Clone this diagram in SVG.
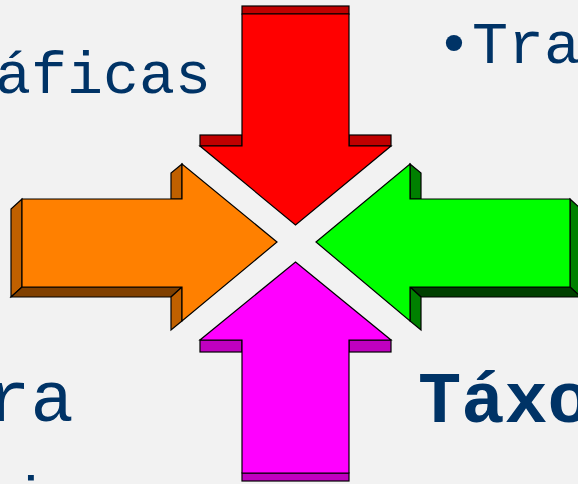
<svg xmlns="http://www.w3.org/2000/svg" width="578" height="484" viewBox="0 0 578 484">
<style>
.s{stroke:#000;stroke-width:1.2;stroke-linejoin:miter}
.t{font-family:"Liberation Mono","DejaVu Sans Mono",monospace;fill:#003366}
</style>
<rect width="578" height="484" fill="#f2f2f2"/>
<g id="texts">
<text class="t" x="-5" y="93" font-size="60">áficas</text>
<text class="t" x="436" y="63" font-size="60">•Tra</text>
<text class="t" x="-12.7" y="421" font-size="72">ra</text>
<text class="t" x="418" y="422" font-size="72" font-weight="bold">Táxo</text>
<text class="t" x="12" y="518" font-size="60">i</text>
</g>
<g id="arrow-red">
<rect class="s" x="242" y="6" width="107" height="8" fill="#c00000"/>
<rect class="s" x="200" y="135" width="42" height="11" fill="#c00000"/>
<rect class="s" x="349" y="135" width="42" height="11" fill="#c00000"/>
<polygon class="s" points="242,14 349,14 349,146 391,146 295.5,225 200,146 242,146" fill="#ff0000"/>
</g>
<g id="arrow-green">
<polygon class="s" points="410,164 421,173 421,199 410,199" fill="#008000"/>
<polygon class="s" points="570,199 581,209 581,297 570,287" fill="#008000"/>
<polygon class="s" points="410,287 570,287 581,297 421,297" fill="#004000"/>
<polygon class="s" points="410,287 421,297 421,330 410,321" fill="#008000"/>
<polygon class="s" points="316,242 410,164 410,199 570,199 570,287 410,287 410,321" fill="#00ff00"/>
</g>
<g id="arrow-orange">
<polygon class="s" points="182,164 171,173 171,199 182,199" fill="#c06000"/>
<polygon class="s" points="22,199 11,209 11,297 22,287" fill="#c06000"/>
<polygon class="s" points="22,287 182,287 171,297 11,297" fill="#804000"/>
<polygon class="s" points="182,287 171,297 171,330 182,321" fill="#c06000"/>
<polygon class="s" points="22,199 182,199 182,164 277,242 182,321 182,287 22,287" fill="#ff8000"/>
</g>
<g id="arrow-magenta">
<rect class="s" x="200" y="340" width="42" height="12" fill="#c000c0"/>
<rect class="s" x="349" y="340" width="42" height="12" fill="#c000c0"/>
<rect class="s" x="242" y="473" width="107" height="8" fill="#c000c0"/>
<polygon class="s" points="295.5,262 391,340 349,340 349,473 242,473 242,340 200,340" fill="#ff00ff"/>
</g>
<g id="connectors"></g>
</svg>
